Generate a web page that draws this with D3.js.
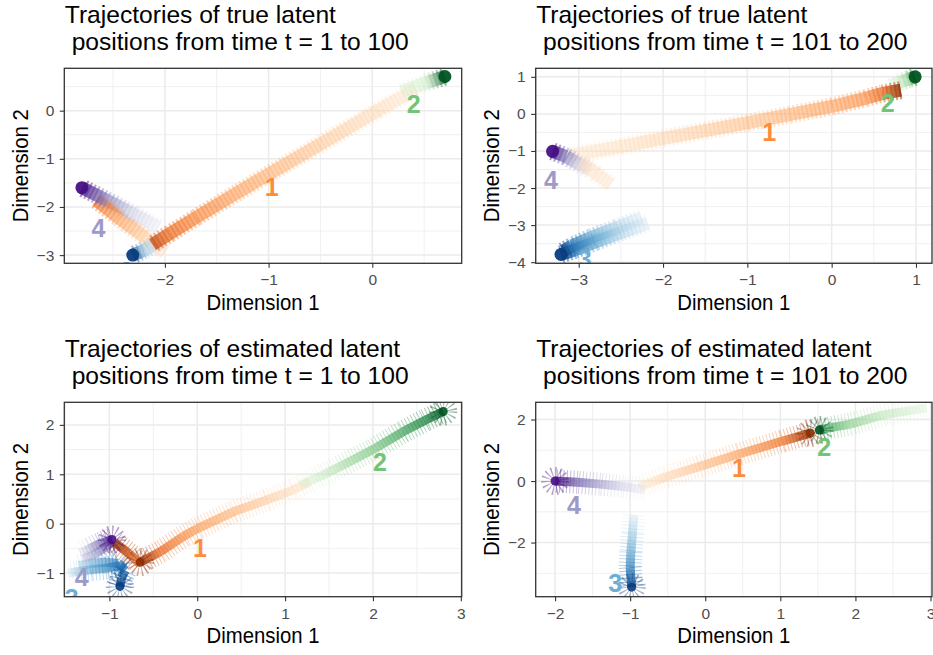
<!DOCTYPE html>
<html><head><meta charset="utf-8">
<script src="https://cdn.jsdelivr.net/npm/d3@7"></script>
<style>
body{margin:0;background:#fff}
text{font-family:"Liberation Sans",Arial,Helvetica,sans-serif}
</style>
</head><body>
<svg id="chart" width="933" height="655"></svg>
<script>
// ---------------- DATA ----------------
// each point: [Dimension 1, Dimension 2, time t]
const titleLine1 = ["Trajectories of true latent","Trajectories of true latent",
                    "Trajectories of estimated latent","Trajectories of estimated latent"];
const titleLine2 = [" positions from time t = 1 to 100"," positions from time t = 101 to 200",
                    " positions from time t = 1 to 100"," positions from time t = 101 to 200"];
const timeRanges = [[1,100],[101,200],[1,100],[101,200]];
const xDomains = [[-2.97,0.862],[-3.51,1.19],[-1.513,3.01],[-2.258,3.02]];
const yDomains = [[-3.17,0.88],[-4.03,1.23],[-1.478,2.457],[-3.76,2.56]];
const xTickValues = [[-2,-1,0],[-3,-2,-1,0,1],[-1,0,1,2,3],[-2,-1,0,1,2,3]];
const yTickValues = [[-3,-2,-1,0],[-4,-3,-2,-1,0,1],[-1,0,1,2],[-2,0,2]];
const groupNames = ["1","2","3","4"];

// Panel 1: true latent positions, t = 1..100
const true1_g1  = [[0.42,0.45,1],[0.05,0.0,8],[-0.4,-0.57,18],[-0.85,-1.13,28],[-1.3,-1.7,38],[-1.7,-2.22,50],[-1.95,-2.55,62],[-2.12,-2.78,80]];
const true1_g1b = [[-2.0,-2.95,1],[-2.2,-2.62,20],[-2.45,-2.22,40],[-2.66,-1.86,60]];
const true1_g2  = [[0.28,0.40,1],[0.40,0.49,5],[0.52,0.58,12],[0.70,0.71,100]];
const true1_g3  = [[-2.04,-2.66,1],[-2.12,-2.8,15],[-2.2,-2.9,35],[-2.31,-3.0,100]];
const true1_g4  = [[-2.06,-2.42,1],[-2.3,-2.15,20],[-2.55,-1.87,55],[-2.80,-1.60,100]];
const true1_labels = [[-0.97,-1.58],[0.40,0.14],[-2.37,-3.33],[-2.64,-2.44]];

// Panel 2: true latent positions, t = 101..200
const true2_g1  = [[-3.1,-1.12,101],[-2.5,-0.88,106],[-2.0,-0.66,112],[-1.5,-0.45,118],[-1.0,-0.24,124],[-0.5,-0.02,130],[0.0,0.2,137],[0.4,0.42,146],[0.6,0.55,165],[0.82,0.64,200]];
const true2_g1b = [[-2.62,-1.9,101],[-2.8,-1.6,104],[-2.97,-1.3,108]];
const true2_g2  = [[0.70,0.76,101],[0.80,0.85,115],[0.91,0.93,140],[0.99,1.0,200]];
const true2_g3  = [[-2.18,-2.95,101],[-2.5,-3.2,125],[-2.8,-3.45,150],[-3.05,-3.67,175],[-3.21,-3.79,200]];
const true2_g3b = [[-2.25,-2.8,101],[-2.55,-3.07,125],[-2.85,-3.33,150],[-3.08,-3.56,175],[-3.18,-3.7,200]];
const true2_g4  = [[-2.87,-1.52,101],[-3.0,-1.35,125],[-3.15,-1.15,160],[-3.31,-1.01,200]];
const true2_labels = [[-0.74,-0.48],[0.665,0.29],[-2.93,-3.92],[-3.33,-1.77]];

// Panel 3: estimated latent positions, t = 1..100
const est1_g1  = [[1.28,0.85,1],[1.09,0.68,8],[0.79,0.48,18],[0.41,0.24,30],[0.0,-0.1,42],[-0.16,-0.26,50],[-0.42,-0.57,65],[-0.65,-0.78,100]];
const est1_g1b = [[-0.65,-0.82,60],[-0.78,-0.6,80],[-0.94,-0.38,100]];
const est1_g2  = [[1.17,0.78,1],[1.45,1.0,15],[1.66,1.19,30],[2.0,1.5,45],[2.34,1.86,65],[2.6,2.1,80],[2.8,2.27,100]];
const est1_g3  = [[-1.47,-1.0,1],[-1.37,-0.97,30],[-1.2,-0.93,50],[-1.03,-0.9,65],[-0.88,-0.85,75],[-0.82,-0.95,82],[-0.86,-1.1,90],[-0.88,-1.27,100]];
const est1_g3b = [[-1.35,-0.85,20],[-1.2,-0.8,40],[-1.05,-0.78,55],[-0.9,-0.8,70],[-0.83,-0.9,85]];
const est1_g4  = [[-1.33,-0.6,1],[-1.22,-0.5,35],[-1.1,-0.4,65],[-0.97,-0.32,100]];
const est1_g4b = [[-1.3,-0.72,20],[-1.15,-0.6,45],[-1.03,-0.45,70],[-0.96,-0.36,100]];
const est1_labels = [[0.03,-0.50],[2.08,1.24],[-1.43,-1.5],[-1.315,-1.07]];

// Panel 4: estimated latent positions, t = 101..200
const est2_g1 = [[-0.88,-0.19,101],[-0.52,0.14,112],[-0.08,0.47,125],[0.45,0.88,140],[1.03,1.3,160],[1.4,1.56,200]];
const est2_g2 = [[2.95,2.38,101],[2.37,2.15,120],[1.93,1.85,140],[1.62,1.71,165],[1.52,1.66,200]];
const est2_g3 = [[-0.95,-1.1,101],[-0.97,-1.7,130],[-0.99,-2.3,150],[-1.0,-2.8,170],[-0.99,-3.15,185],[-0.98,-3.45,200]];
const est2_g4 = [[-0.8,-0.28,101],[-1.1,-0.18,120],[-1.4,-0.1,145],[-1.7,-0.04,170],[-2.0,0.0,200]];
const est2_labels = [[0.45,0.41],[1.585,1.12],[-1.20,-3.33],[-1.75,-0.78]];

// ---------------- assembly ----------------
const panels = [
  {est:false, labels:true1_labels, strands:[{g:0,pts:true1_g1,cap:false},{g:0,pts:true1_g1b,cap:false},{g:1,pts:true1_g2,cap:true},{g:2,pts:true1_g3,cap:true},{g:3,pts:true1_g4,cap:true}]},
  {est:false, labels:true2_labels, strands:[{g:0,pts:true2_g1,cap:false},{g:0,pts:true2_g1b,cap:false},{g:1,pts:true2_g2,cap:true},{g:2,pts:true2_g3,cap:true},{g:2,pts:true2_g3b,cap:false},{g:3,pts:true2_g4,cap:true}]},
  {est:true, labels:est1_labels, strands:[{g:0,pts:est1_g1,cap:true},{g:0,pts:est1_g1b,cap:false},{g:1,pts:est1_g2,cap:true},{g:2,pts:est1_g3,cap:true},{g:2,pts:est1_g3b,cap:false},{g:3,pts:est1_g4,cap:true},{g:3,pts:est1_g4b,cap:false}]},
  {est:true, labels:est2_labels, strands:[{g:0,pts:est2_g1,cap:true},{g:1,pts:est2_g2,cap:true},{g:2,pts:est2_g3,cap:true},{g:3,pts:est2_g4,cap:true}]}
];
const rects = [
  {l:64.3,r:461.7,t:68.3,b:263.3},
  {l:535.7,r:932,t:68.3,b:263.3},
  {l:64.3,r:461.7,t:402.3,b:596.7},
  {l:535.7,r:932,t:402.3,b:596.7}
];
const interps = [d3.interpolateOranges,d3.interpolateGreens,d3.interpolateBlues,d3.interpolatePurples];
const labelColors = [d3.schemeOranges[5][2],d3.schemeGreens[5][2],d3.schemeBlues[5][2],d3.schemePurples[5][2]];

const svg = d3.select("#chart");
const defs = svg.append("defs");
svg.append("rect").attr("width",933).attr("height",655).attr("fill","#fff");

function minorOf(ticks, dom){
  const step = ticks.length>1 ? ticks[1]-ticks[0] : 1;
  const out=[];
  for(let v=ticks[0]-step/2; v<=ticks[ticks.length-1]+step/2+1e-9; v+=step){
    if(v>=dom[0] && v<=dom[1]) out.push(v);
  }
  return out;
}

panels.forEach((P,pi)=>{
  const R = rects[pi];
  const sx = d3.scaleLinear().domain(xDomains[pi]).range([R.l,R.r]);
  const sy = d3.scaleLinear().domain(yDomains[pi]).range([R.b,R.t]);
  const tDom = timeRanges[pi];
  const g = svg.append("g");

  // grid
  const xMin = minorOf(xTickValues[pi], xDomains[pi]);
  const yMin = minorOf(yTickValues[pi], yDomains[pi]);
  g.selectAll(".vmin").data(xMin).join("line").attr("x1",d=>sx(d)).attr("x2",d=>sx(d)).attr("y1",R.t).attr("y2",R.b)
    .attr("stroke","#ebebeb").attr("stroke-width",0.75);
  g.selectAll(".hmin").data(yMin).join("line").attr("y1",d=>sy(d)).attr("y2",d=>sy(d)).attr("x1",R.l).attr("x2",R.r)
    .attr("stroke","#ebebeb").attr("stroke-width",0.75);
  g.selectAll(".vmaj").data(xTickValues[pi]).join("line").attr("x1",d=>sx(d)).attr("x2",d=>sx(d)).attr("y1",R.t).attr("y2",R.b)
    .attr("stroke","#ebebeb").attr("stroke-width",1.5);
  g.selectAll(".hmaj").data(yTickValues[pi]).join("line").attr("y1",d=>sy(d)).attr("y2",d=>sy(d)).attr("x1",R.l).attr("x2",R.r)
    .attr("stroke","#ebebeb").attr("stroke-width",1.5);

  // clip
  defs.append("clipPath").attr("id","clip"+pi).append("rect")
    .attr("x",R.l).attr("y",R.t).attr("width",R.r-R.l).attr("height",R.b-R.t);
  const plot = g.append("g").attr("clip-path",`url(#clip${pi})`);

  const frac = t => (t - tDom[0])/(tDom[1]-tDom[0]);
  const bw = P.est ? 9 : 13;
  const hw = P.est ? 23 : 18;

  // segments sorted by time
  const segs = [];
  P.strands.forEach((s,si)=>{
    for(let i=0;i<s.pts.length-1;i++) segs.push({g:s.g, a:s.pts[i], b:s.pts[i+1], id:`gr${pi}_${si}_${i}`});
  });
  segs.sort((u,v)=>u.a[2]-v.a[2]);
  const col = (gi,f)=>interps[gi](0.18+0.77*f);
  const op = f => P.est ? 0.5+0.5*f : 0.45+0.55*f;
  segs.forEach(s=>{
    const lg = defs.append("linearGradient").attr("id",s.id).attr("gradientUnits","userSpaceOnUse")
      .attr("x1",sx(s.a[0])).attr("y1",sy(s.a[1])).attr("x2",sx(s.b[0])).attr("y2",sy(s.b[1]));
    lg.append("stop").attr("offset",0).attr("stop-color",col(s.g,frac(s.a[2]))).attr("stop-opacity",op(frac(s.a[2])));
    lg.append("stop").attr("offset",1).attr("stop-color",col(s.g,frac(s.b[2]))).attr("stop-opacity",op(frac(s.b[2])));
  });
  const segSel = plot.selectAll(".seg").data(segs).join("g");
  segSel.append("line")
    .attr("x1",d=>sx(d.a[0])).attr("y1",d=>sy(d.a[1])).attr("x2",d=>sx(d.b[0])).attr("y2",d=>sy(d.b[1]))
    .attr("stroke",d=>`url(#${d.id})`).attr("stroke-width",hw)
    .attr("stroke-dasharray",P.est?"1 2.4":"2 2.2").attr("stroke-opacity",P.est?0.42:0.5);
  segSel.append("line")
    .attr("x1",d=>sx(d.a[0])).attr("y1",d=>sy(d.a[1])).attr("x2",d=>sx(d.b[0])).attr("y2",d=>sy(d.b[1]))
    .attr("stroke",d=>`url(#${d.id})`).attr("stroke-width",bw).attr("stroke-opacity",0.82);

  // end points
  const ends = P.strands.filter(s=>s.cap).map(s=>({g:s.g, p:s.pts[s.pts.length-1]}));
  if(P.est){
    plot.selectAll(".burst").data(ends).join("circle")
      .attr("cx",d=>sx(d.p[0])).attr("cy",d=>sy(d.p[1])).attr("r",7.5)
      .attr("fill","none").attr("stroke",d=>col(d.g,1)).attr("stroke-width",13)
      .attr("stroke-dasharray","1 2.2").attr("stroke-opacity",0.4);
    plot.selectAll(".dot").data(ends).join("circle")
      .attr("cx",d=>sx(d.p[0])).attr("cy",d=>sy(d.p[1])).attr("r",4.5)
      .attr("fill",d=>col(d.g,1)).attr("fill-opacity",0.9);
  } else {
    plot.selectAll(".dot").data(ends).join("circle")
      .attr("cx",d=>sx(d.p[0])).attr("cy",d=>sy(d.p[1])).attr("r",bw/2)
      .attr("fill",d=>col(d.g,1)).attr("fill-opacity",0.95);
  }

  // group labels
  plot.selectAll(".lab").data(P.labels).join("text")
    .attr("x",d=>sx(d[0])).attr("y",d=>sy(d[1])).attr("dy","0.36em")
    .attr("text-anchor","middle").attr("font-weight","bold").attr("font-size","25px")
    .attr("fill",(d,i)=>labelColors[i]).text((d,i)=>groupNames[i]);

  // border
  g.append("rect").attr("x",R.l).attr("y",R.t).attr("width",R.r-R.l).attr("height",R.b-R.t)
    .attr("fill","none").attr("stroke","#333333").attr("stroke-width",1.3);

  // axes
  const fmt = d3.format("d");
  const xa = g.append("g").attr("transform",`translate(0,${R.b})`)
    .call(d3.axisBottom(sx).tickValues(xTickValues[pi]).tickSize(4.5).tickPadding(6.5).tickFormat(fmt));
  const ya = g.append("g").attr("transform",`translate(${R.l},0)`)
    .call(d3.axisLeft(sy).tickValues(yTickValues[pi]).tickSize(4.5).tickPadding(5.5).tickFormat(fmt));
  [xa,ya].forEach(a=>{
    a.select(".domain").remove();
    a.selectAll(".tick line").attr("stroke","#333333").attr("stroke-width",1.1);
    a.selectAll(".tick text").attr("fill","#4d4d4d").attr("font-size","15.5px")
      .attr("font-family","'Liberation Sans',Arial,sans-serif");
  });

  // axis titles
  g.append("text").attr("x",(R.l+R.r)/2).attr("y",R.b+46.5).attr("text-anchor","middle")
    .attr("font-size","21.5px").attr("fill","#000")
    .attr("textLength",113).attr("lengthAdjust","spacingAndGlyphs").text("Dimension 1");
  g.append("text").attr("transform",`translate(${R.l-36.5},${(R.t+R.b)/2}) rotate(-90)`)
    .attr("text-anchor","middle").attr("font-size","21.5px").attr("fill","#000")
    .attr("textLength",113).attr("lengthAdjust","spacingAndGlyphs").text("Dimension 2");

  // title
  g.append("text").attr("x",R.l+0.5).attr("y",R.t-45.5).attr("font-size","24.6px").attr("fill","#000")
    .style("white-space","pre").text(titleLine1[pi]);
  g.append("text").attr("x",R.l+0.5).attr("y",R.t-18.8).attr("font-size","24.6px").attr("fill","#000")
    .style("white-space","pre").text(titleLine2[pi]);
});
</script>
</body></html>
